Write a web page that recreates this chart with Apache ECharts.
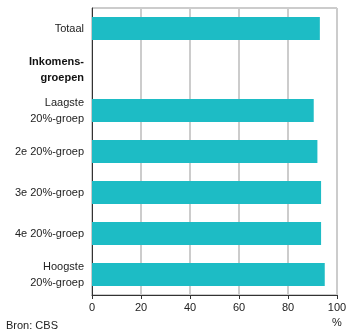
<!DOCTYPE html>
<html>
<head>
<meta charset="utf-8">
<script src="https://cdn.jsdelivr.net/npm/echarts@6/dist/echarts.min.js"></script>
<style>
  html, body { margin: 0; padding: 0; background: #fff; }
  #chart { width: 350px; height: 334px; }
</style>
</head>
<body>
<div id="chart"></div>
<script>
// Categories listed top to bottom; the heading row has no bar.
const categories = [
  'Totaal',
  'Inkomens-\ngroepen',
  'Laagste\n20%-groep',
  '2e 20%-groep',
  '3e 20%-groep',
  '4e 20%-groep',
  'Hoogste\n20%-groep'
];
const values = [93, null, 90.5, 92, 93.5, 93.5, 95];
const xTicks = [0, 20, 40, 60, 80, 100];

const chart = echarts.init(document.getElementById('chart'));
chart.setOption({
  animation: false,
  grid: {
    left: 92, right: 13, top: 8, bottom: 39,
    show: true, borderColor: '#999', borderWidth: 1
  },
  xAxis: {
    type: 'value',
    min: xTicks[0], max: xTicks[xTicks.length - 1], interval: 20,
    axisLine: { show: true, onZero: false, lineStyle: { color: '#333', width: 1 } },
    axisTick: { show: true, length: 4, lineStyle: { color: '#333' } },
    axisLabel: {
      color: '#222', fontFamily: 'Liberation Sans, Arial, sans-serif', fontSize: 11, margin: 7
    },
    splitLine: { show: true, lineStyle: { color: '#ccc', width: 2 } }
  },
  yAxis: {
    type: 'category',
    inverse: true,
    data: categories,
    axisLine: { show: true, lineStyle: { color: '#333', width: 1 } },
    axisTick: { show: false },
    axisLabel: {
      color: '#222', fontFamily: 'Liberation Sans, Arial, sans-serif', fontSize: 11,
      margin: 8, lineHeight: 16,
      formatter: function (v) {
        return v.indexOf('Inkomens') === 0 ? '{b|' + v.replace('\n', '}\n{b|') + '}' : v;
      },
      rich: { b: { fontWeight: 'bold', fontSize: 11, color: '#111', lineHeight: 16,
                   fontFamily: 'Liberation Sans, Arial, sans-serif' } }
    }
  },
  series: [{
    type: 'bar',
    data: values,
    barCategoryGap: '44%',
    itemStyle: { color: '#1dbcc5' }
  }],
  graphic: [
    { type: 'text', left: 332, top: 317,
      style: { text: '%', fill: '#222', font: '11px Liberation Sans, Arial, sans-serif' } },
    { type: 'text', left: 6, top: 320,
      style: { text: 'Bron: CBS', fill: '#222', font: '11px Liberation Sans, Arial, sans-serif' } }
  ]
});
</script>
</body>
</html>
